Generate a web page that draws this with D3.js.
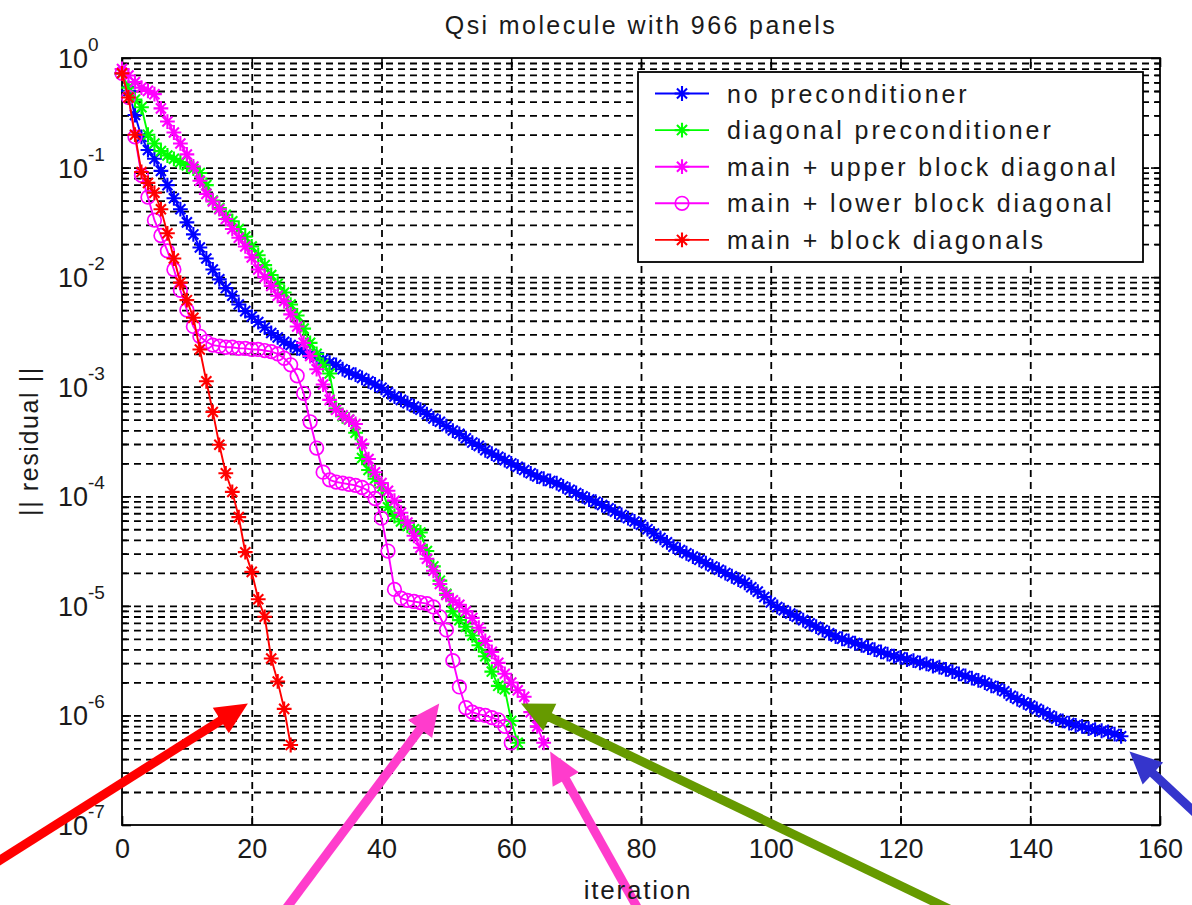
<!DOCTYPE html>
<html>
<head>
<meta charset="utf-8">
<script src="https://cdn.jsdelivr.net/npm/d3@7"></script>
<style>
body { margin: 0; background: #fff; }
svg { display: block; }
text { font-family: "Liberation Sans", Arial, sans-serif; fill: #1a1a1a; }
</style>
</head>
<body>
<svg id="chart" width="1192" height="905"></svg>
<script>
// log10(||residual||) at iteration 0,1,2,... for each run
const logNoPrecond = [
  -0.14, -0.30, -0.52, -0.72, -0.84, -0.92, -1.03, -1.16, -1.28, -1.38,
  -1.50, -1.61, -1.73, -1.83, -1.93, -2.02, -2.10, -2.17, -2.25, -2.31,
  -2.36, -2.41, -2.46, -2.51, -2.55, -2.59, -2.62, -2.65, -2.67, -2.70,
  -2.73, -2.75, -2.78, -2.80, -2.84, -2.87, -2.89, -2.92, -2.95, -2.98,
  -3.01, -3.05, -3.09, -3.12, -3.15, -3.18, -3.21, -3.25, -3.29, -3.32,
  -3.36, -3.40, -3.43, -3.47, -3.51, -3.54, -3.58, -3.61, -3.64, -3.67,
  -3.70, -3.73, -3.76, -3.79, -3.82, -3.84, -3.86, -3.88, -3.91, -3.94,
  -3.97, -4.00, -4.03, -4.05, -4.08, -4.11, -4.14, -4.17, -4.20, -4.23,
  -4.26, -4.30, -4.34, -4.38, -4.42, -4.46, -4.49, -4.52, -4.55, -4.58,
  -4.61, -4.64, -4.67, -4.70, -4.73, -4.76, -4.79, -4.83, -4.87, -4.92,
  -4.97, -5.01, -5.04, -5.07, -5.10, -5.13, -5.16, -5.19, -5.22, -5.25,
  -5.28, -5.30, -5.32, -5.34, -5.36, -5.38, -5.40, -5.42, -5.44, -5.46,
  -5.47, -5.49, -5.50, -5.52, -5.53, -5.55, -5.56, -5.58, -5.60, -5.62,
  -5.64, -5.66, -5.68, -5.70, -5.73, -5.75, -5.78, -5.82, -5.85, -5.88,
  -5.91, -5.94, -5.97, -6.00, -6.03, -6.05, -6.07, -6.09, -6.10, -6.12,
  -6.13, -6.14, -6.15, -6.17, -6.19
];
const logDiagPrecond = [
  -0.14, -0.27, -0.38, -0.45, -0.70, -0.78, -0.85, -0.89, -0.92, -0.95,
  -0.98, -1.01, -1.05, -1.16, -1.30, -1.37, -1.43, -1.49, -1.56, -1.63,
  -1.72, -1.80, -1.89, -1.98, -2.06, -2.14, -2.25, -2.35, -2.47, -2.60,
  -2.70, -2.80, -2.88, -3.20, -3.27, -3.30, -3.42, -3.65, -3.76, -3.84,
  -3.92, -4.10, -4.18, -4.23, -4.27, -4.30, -4.33, -4.50, -4.64, -4.77,
  -4.89, -5.05, -5.13, -5.19, -5.27, -5.36, -5.46, -5.60, -5.73, -5.76,
  -6.05, -6.25
];
const logUpperBlock = [
  -0.10, -0.16, -0.22, -0.27, -0.30, -0.33, -0.46, -0.58, -0.68, -0.78,
  -0.88, -0.99, -1.12, -1.24, -1.31, -1.38, -1.47, -1.56, -1.64, -1.72,
  -1.82, -1.93, -2.00, -2.08, -2.17, -2.22, -2.34, -2.45, -2.60, -2.72,
  -2.84, -2.98, -3.12, -3.21, -3.26, -3.30, -3.34, -3.52, -3.66, -3.78,
  -3.88, -3.95, -4.04, -4.15, -4.24, -4.36, -4.47, -4.57, -4.68, -4.80,
  -4.90, -4.95, -4.99, -5.05, -5.11, -5.20, -5.32, -5.42, -5.52, -5.62,
  -5.70, -5.77, -5.83, -5.97, -6.10, -6.25
];
const logLowerBlock = [
  -0.14, -0.36, -0.72, -1.07, -1.27, -1.48, -1.62, -1.76, -1.93, -2.12,
  -2.30, -2.45, -2.54, -2.59, -2.62, -2.63, -2.64, -2.64, -2.65, -2.65,
  -2.66, -2.66, -2.67, -2.68, -2.70, -2.74, -2.80, -2.90, -3.06, -3.32,
  -3.56, -3.78, -3.85, -3.87, -3.88, -3.89, -3.90, -3.92, -3.95, -4.02,
  -4.20, -4.50, -4.85, -4.93, -4.95, -4.96, -4.97, -4.98, -5.01, -5.10,
  -5.22, -5.50, -5.74, -5.93, -5.97, -5.99, -6.00, -6.02, -6.04, -6.10,
  -6.25
];
const logBlockDiag = [
  -0.14, -0.36, -0.70, -1.04, -1.14, -1.23, -1.38, -1.60, -1.83, -2.05,
  -2.21, -2.37, -2.66, -2.95, -3.23, -3.53, -3.79, -3.96, -4.19, -4.51,
  -4.69, -4.94, -5.10, -5.48, -5.69, -5.94, -6.27
];

const seriesNames = [
  "no preconditioner",
  "diagonal preconditioner",
  "main + upper block diagonal",
  "main + lower block diagonal",
  "main + block diagonals"
];
const seriesColors = ["#0000ff", "#00ff00", "#ff00ff", "#ff00ff", "#ff0000"];
const seriesMarkers = ["star", "star", "star", "circle", "star"];
const seriesLogs = [logNoPrecond, logDiagPrecond, logUpperBlock, logLowerBlock, logBlockDiag];

const xTicks = [0, 20, 40, 60, 80, 100, 120, 140, 160];
const yDecades = [-7, -6, -5, -4, -3, -2, -1, 0];

// annotation arrows, [iteration, log10 residual] of tail and tip
const arrowColors = ["#ff0000", "#ff3ccc", "#ff3ccc", "#669a00", "#3535cc"];
const arrowTails = [[-18.8, -7.32], [25.7, -7.73], [79.2, -7.73], [126.2, -7.73], [164.9, -6.86]];
const arrowTips = [[19.4, -5.89], [48.9, -5.89], [66.0, -6.33], [61.5, -5.89], [155.3, -6.33]];

const svg = d3.select("#chart");
const x = d3.scaleLinear().domain([0, 160]).range([122, 1160]);
const y = d3.scaleLog().domain([1e-7, 1]).range([825, 58]);
const plotW = 1160 - 122;

var minorVals = [];
yDecades.slice(0, -1).forEach(function(e) {
    for (var k = 2; k < 10; k++) minorVals.push(k * Math.pow(10, e));
});
var decadeVals = yDecades.map(function(e) { return Math.pow(10, e); });

// grid
var grid = svg.append("g").attr("class", "grid");
grid.append("g")
    .attr("transform", "translate(122,0)")
    .call(d3.axisLeft(y).tickValues(minorVals.concat(decadeVals.slice(1, -1))).tickSize(-plotW).tickFormat(""));
grid.append("g")
    .attr("transform", "translate(0,825)")
    .call(d3.axisBottom(x).tickValues(xTicks.slice(1, -1)).tickSize(-767).tickFormat(""));
grid.selectAll(".domain").remove();
grid.selectAll("line")
    .attr("stroke", "#000")
    .attr("stroke-width", 1.8)
    .attr("stroke-dasharray", "7,5");

// axes box and inward ticks
function styleAxis(g) {
    g.select(".domain").remove();
    g.selectAll("line").attr("stroke", "#000").attr("stroke-width", 1.6);
}
var xb = svg.append("g").attr("transform", "translate(0,825)")
    .call(d3.axisBottom(x).tickValues(xTicks).tickSize(-9).tickPadding(14));
styleAxis(xb);
xb.selectAll("text")
    .style("font-size", "27px")
    .style("font-family", "'Liberation Sans', Arial, sans-serif")
    .attr("fill", "#1a1a1a");

svg.append("g").attr("transform", "translate(0,58)")
    .call(d3.axisTop(x).tickValues(xTicks).tickSize(-9).tickFormat(""))
    .call(styleAxis);
[[122, d3.axisLeft], [1160, d3.axisRight]].forEach(function(p) {
    svg.append("g").attr("transform", "translate(" + p[0] + ",0)")
        .call(p[1](y).tickValues(decadeVals).tickSize(-9).tickFormat(""))
        .call(styleAxis);
    svg.append("g").attr("transform", "translate(" + p[0] + ",0)")
        .call(p[1](y).tickValues(minorVals).tickSize(-5).tickFormat(""))
        .call(styleAxis);
});
svg.append("rect")
    .attr("x", 122).attr("y", 58)
    .attr("width", plotW).attr("height", 767)
    .attr("fill", "none").attr("stroke", "#000").attr("stroke-width", 1.8);

// y tick labels 10^n
var ylab = svg.append("g").selectAll("text").data(yDecades).enter().append("text")
    .attr("x", 58)
    .attr("y", function(d) { return y(Math.pow(10, d)) + 10; })
    .style("font-size", "27px");
ylab.append("tspan").text("10");
ylab.append("tspan").attr("dy", -17).style("font-size", "19px")
    .text(function(d) { return d === 0 ? "0" : "-" + Math.abs(d); });

// title and y label
svg.append("text").attr("x", 641).attr("y", 34)
    .attr("text-anchor", "middle").style("font-size", "25px").style("letter-spacing", "2.4px")
    .text("Qsi molecule with 966 panels");
svg.append("text")
    .attr("transform", "translate(38,441) rotate(-90)")
    .attr("text-anchor", "middle").style("font-size", "25px").style("letter-spacing", "1.6px")
    .text("|| residual ||");

// markers
function starPath(r) {
    var a = r * 0.68;
    return "M" + (-r) + ",0H" + r + "M0," + (-r) + "V" + r +
        "M" + (-a) + "," + (-a) + "L" + a + "," + a +
        "M" + (-a) + "," + a + "L" + a + "," + (-a);
}
function drawMarker(sel, kind, color) {
    if (kind === "circle") {
        sel.append("circle").attr("r", 6.8)
            .attr("fill", "none").attr("stroke", color).attr("stroke-width", 1.7);
    } else {
        sel.append("path").attr("d", starPath(7.4))
            .attr("fill", "none").attr("stroke", color).attr("stroke-width", 2.1);
    }
}

var line = d3.line()
    .x(function(d) { return x(d.it); })
    .y(function(d) { return y(d.r); });

seriesLogs.forEach(function(vals, si) {
    var pts = vals.map(function(v, i) { return { it: i, r: Math.pow(10, v) }; });
    var g = svg.append("g");
    g.append("path").datum(pts)
        .attr("fill", "none")
        .attr("stroke", seriesColors[si])
        .attr("stroke-width", 1.9)
        .attr("d", line);
    g.selectAll(".m").data(pts).enter().append("g")
        .attr("transform", function(d) { return "translate(" + x(d.it) + "," + y(d.r) + ")"; })
        .each(function() { drawMarker(d3.select(this), seriesMarkers[si], seriesColors[si]); });
});

// legend
var leg = svg.append("g");
leg.append("rect").attr("x", 638).attr("y", 72).attr("width", 505).attr("height", 190)
    .attr("fill", "#fff").attr("stroke", "#000").attr("stroke-width", 1.8);
var rows = leg.selectAll(".row").data(seriesNames).enter().append("g")
    .attr("transform", function(d, i) { return "translate(0," + (93.5 + i * 36.6) + ")"; });
rows.append("line").attr("x1", 655).attr("x2", 709)
    .attr("stroke", function(d, i) { return seriesColors[i]; }).attr("stroke-width", 1.9);
rows.append("g").attr("transform", "translate(682,0)")
    .each(function(d, i) { drawMarker(d3.select(this), seriesMarkers[i], seriesColors[i]); });
rows.append("text").attr("x", 727).attr("dy", "0.36em")
    .style("font-size", "25px").style("letter-spacing", "2.9px")
    .text(function(d) { return d; });

// arrows
arrowTips.forEach(function(tip, i) {
    var tx = x(tip[0]), ty = y(Math.pow(10, tip[1]));
    var sx = x(arrowTails[i][0]), sy = y(Math.pow(10, arrowTails[i][1]));
    var ang = Math.atan2(ty - sy, tx - sx);
    var len = Math.hypot(tx - sx, ty - sy);
    var g = svg.append("g")
        .attr("transform", "translate(" + tx + "," + ty + ") rotate(" + (ang * 180 / Math.PI) + ")");
    g.append("line").attr("x1", -len - 40).attr("x2", -26)
        .attr("stroke", arrowColors[i]).attr("stroke-width", 9);
    g.append("path").attr("d", "M0,0L-32,-15L-32,15Z").attr("fill", arrowColors[i]);
});

// x label drawn last so it stays readable over the arrow
svg.append("text").attr("x", 638).attr("y", 899)
    .attr("text-anchor", "middle").style("font-size", "26px").style("letter-spacing", "1.8px")
    .text("iteration");
</script>
</body>
</html>
